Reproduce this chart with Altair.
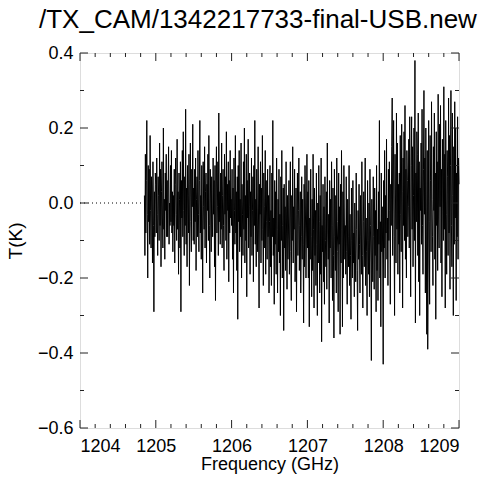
import altair as alt
import pandas as pd

TITLE = "/TX_CAM/1342217733-final-USB.new"
X_LABEL = "Frequency (GHz)"
Y_LABEL = "T(K)"

# channel grid of the spectrum (evenly spaced channels)
F_START = 1204.85
F_END = 1209.0

# antenna temperature in units of 0.01 K, in order of frequency
t_start = "2 -14 13 -8 6 22 -3 -20 10 -5 9 -11 18 -2 -12 7 4 -16 11 -6 -29 3 -9 8"
t_1205 = """5 -8 12 -3 -14 7 2 -10 16 -6 9 -17 3 11 -4 -12 20 -7 1 -15
8 -2 13 -9 6 -9 4 15 -11 0 -6 10 -5 14 -8 3 -13 2 -6 9
-16 5 12 -3 -10 17 -7 3 -19 8 1 -12 11 -29 6 -4 14 -9 19 -2
-14 7 -6 25 -11 4 -17 10 2 -8 13 -22 5 16 -5 -13 9 -1 21 -10
4 -11 9 -5 12 -18 1 7 -9 14 -3 -13 6 22 -8 2 -15 10 -4 -24
11 -1 -7 15 -12 3 8 -16 5 -2 13 -10 18 -6 -20 9 0 -13 7 -4
-9 12 -3 6 -17 10 -26 4 15 -8 -1 11 -14 24 -5 3 -11 8 -7 16
-12 2 9 -6 -18 13 -3 7 -10 19 -15 5 -2 11 -21 6 -8 14 -4 1"""
t_1206 = """-6 9 -15 4 -24 12 -2 -11 18 -8 3 -18 7 -31 10 -5 14 -13 1 -9
16 -20 5 -3 -14 11 -7 20 -16 2 -10 13 -25 6 -4 17 -12 -1 8 -19
3 -9 12 -14 -2 7 -21 10 -6 22 -11 1 -17 9 -4 -13 15 -8 -28 5
-3 11 -16 4 -10 18 -7 -22 8 -1 -12 14 -19 6 -5 -15 9 -9 2 -24
-5 10 -17 -2 -22 8 -9 22 -14 -4 -27 6 -11 3 -19 12 -7 -24 1 -13
9 -16 -3 -30 7 -10 14 -20 -6 4 -34 5 -12 -1 -18 11 -8 -23 2 -15
-8 6 -19 -4 11 -13 -26 2 -10 15 -16 -1 -7 9 -21 -12 4 -29 -3 8
-14 -2 12 -18 -6 3 -24 -9 7 -15 1 -11 -32 5 -17 10 -4 -20 -8 13"""
t_1207 = """-12 3 -20 6 -33 -4 -15 9 -9 -25 1 -18 13 -7 -28 4 -14 -2 -22 8
-11 -30 0 -16 10 -5 -24 2 -19 12 -37 -6 -13 5 -21 -1 -27 7 -10 -17
3 -23 16 -8 -15 -3 -32 6 -12 1 -20 11 -6 -26 4 -14 -36 9 -9 -18
2 -24 12 -5 -13 -29 8 -11 -1 -35 5 -16 14 -7 -33 3 -20 10 -4 -15
-6 -19 7 -13 -27 1 -9 -17 10 -22 -3 -14 -31 4 -10 -20 6 -16 -8 -25
0 -12 -21 8 -7 -18 -34 -2 -15 5 -11 -24 2 -9 -19 11 -14 -28 -5 3
-17 -8 12 -22 -4 -13 -30 6 -10 -19 0 -25 9 -6 -16 -42 1 -12 -21 7
-9 -23 4 -14 -2 -29 10 -18 -7 -26 3 -11 22 -20 -5 -33 8 -13 -1 -16"""
t_1208 = """-43 6 -12 14 -20 2 -8 17 -15 -4 -22 9 -10 11 -2 -27 5 -6 15 28
-14 4 22 -9 -30 13 0 -16 24 -7 16 -19 5 -11 8 -24 18 -3 -13 21
3 -28 12 -6 19 -10 26 -15 9 -20 14 6 -9 -1 17 -12 23 -4 -25 10
23 -7 15 -17 2 20 -10 38 -32 8 -5 19 13 -14 24 -21 11 -30 4 -2
16 -11 25 -6 -19 9 30 -3 12 -24 20 -8 -35 14 -39 -16 22 -5 -27 18
6 -13 27 1 -9 -22 15 -2 24 -15 8 -31 19 -6 11 -18 29 -4 -12 21
-1 26 -16 9 -25 17 4 -10 31 -7 13 -28 22 -3 -19 14 7 -14 28 -8
18 -23 10 30 -6 -17 24 2 -30 15 -11 27 -4 20 -26 8 -9 23 -15 12 5"""

# dotted zero line before the data starts
zero_f = [1204.0, 1204.85]
zero_t = [0.0, 0.0]

# axis ticks
x_major = [1204, 1205, 1206, 1207, 1208, 1209]
x_minor = [1204.2, 1204.4, 1204.6, 1204.8, 1205.2, 1205.4, 1205.6, 1205.8,
           1206.2, 1206.4, 1206.6, 1206.8, 1207.2, 1207.4, 1207.6, 1207.8,
           1208.2, 1208.4, 1208.6, 1208.8]
y_major = [-0.6, -0.4, -0.2, 0.0, 0.2, 0.4]
y_minor = [-0.5, -0.3, -0.1, 0.1, 0.3]

temps = [int(v) / 100.0 for block in (t_start, t_1205, t_1206, t_1207, t_1208) for v in block.split()]
n = len(temps)
step = (F_END - F_START) / (n - 1)
freqs = [round(F_START + step * i, 5) for i in range(n)]

W, H = 379, 375
FONT = "Liberation Sans"
FRAME = "#222222"

spec_df = pd.DataFrame({"f": freqs, "t": temps})
zero_df = pd.DataFrame({"f": zero_f, "t": zero_t})

xscale = alt.Scale(domain=[1204, 1209], nice=False, zero=False)
yscale = alt.Scale(domain=[-0.6, 0.4], nice=False, zero=False)

x_axis = alt.Axis(values=x_major, format="d", ticks=False, domain=False, grid=False,
                  labelFont=FONT, labelFontSize=18, labelColor="black", labelPadding=9,
                  title=X_LABEL, titleFont=FONT, titleFontSize=18, titleFontWeight="normal",
                  titleColor="black", titlePadding=0)
y_axis = alt.Axis(values=y_major, format=".1f", ticks=False, domain=False, grid=False,
                  labelFont=FONT, labelFontSize=18, labelColor="black", labelPadding=7,
                  title=Y_LABEL, titleFont=FONT, titleFontSize=19, titleFontWeight="normal",
                  titleColor="black", titlePadding=12)

X = alt.X("f:Q", scale=xscale, axis=x_axis)
Y = alt.Y("t:Q", scale=yscale, axis=y_axis)

spectrum = alt.Chart(spec_df).mark_line(color="black", strokeWidth=1).encode(x=X, y=Y)
zero_line = alt.Chart(zero_df).mark_line(color="black", strokeWidth=1, strokeDash=[1, 3]).encode(x=X, y=Y)


def xticks(vals, length):
    d = pd.DataFrame({"f": vals})
    base = alt.Chart(d).mark_rule(color=FRAME, strokeWidth=1)
    bottom = base.encode(x=X, y=alt.value(H), y2=alt.value(H - length))
    top = base.encode(x=X, y=alt.value(0), y2=alt.value(length))
    return [bottom, top]


def yticks(vals, length):
    d = pd.DataFrame({"t": vals})
    base = alt.Chart(d).mark_rule(color=FRAME, strokeWidth=1)
    left = base.encode(y=Y, x=alt.value(0), x2=alt.value(length))
    right = base.encode(y=Y, x=alt.value(W), x2=alt.value(W - length))
    return [left, right]


layers = [spectrum, zero_line] + xticks(x_major, 8) + xticks(x_minor, 4) + yticks(y_major, 8) + yticks(y_minor, 4)

chart = alt.layer(*layers).properties(
    width=W,
    height=H,
    title=alt.TitleParams(TITLE, anchor="start", frame="group", font=FONT, fontSize=26,
                          fontWeight="normal", color="black", dx=-41, offset=11),
    autosize=alt.AutoSizeParams(type="none"),
    padding={"left": 72, "top": 45, "right": 33, "bottom": 49},
).configure_view(stroke=FRAME, strokeWidth=1).configure(background="white")

chart.save("out.html", embed_options={"renderer": "svg", "actions": False})
